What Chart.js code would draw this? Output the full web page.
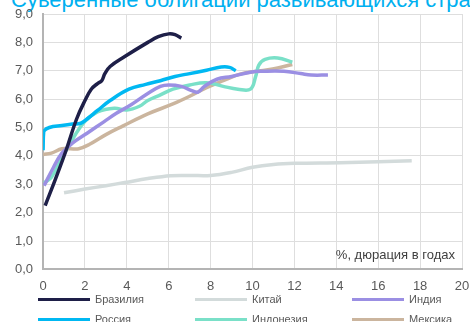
<!DOCTYPE html>
<html>
<head>
<meta charset="utf-8">
<script src="https://cdn.jsdelivr.net/npm/chart.js@4.4.0/dist/chart.umd.min.js"></script>
<style>
   body { margin: 0; background: #fff; overflow: hidden; }
   .wrap { position: relative; width: 470px; height: 322px; overflow: hidden; font-family: "Liberation Sans", Arial, sans-serif; }
   .title { position: absolute; left: 11px; top: -11px; font-size: 22px; line-height: 22px; color: #00b0f0; white-space: nowrap; }
   canvas { position: absolute; left: 0; top: 0; }
   .legend-item { position: absolute; height: 14px; font-size: 11px; line-height: 14px; color: #595959; white-space: nowrap; }
   .legend-item span.line { position: absolute; left: 0; top: 5.5px; width: 52px; height: 3px; }
   .legend-item span.txt { position: absolute; left: 57px; top: 0; }
</style>
</head>
<body>
<div class="wrap">
   <div class="title">Суверенные облигации развивающихся стран</div>
   <canvas id="myChart" width="470" height="322"></canvas>
   <div id="legend"></div>
</div>
<script>
// ==========================================
// Data (duration in years, yield %)
// ==========================================

const names = ["Бразилия", "Китай", "Индия", "Россия", "Индонезия", "Мексика"];
const colors = ["#1e1f48", "#d3dbdb", "#9b8fe3", "#00b8f2", "#7ae0c8", "#cbb59e"];

const brazilX = [0.1, 0.6, 1.1, 1.6, 2.0, 2.3, 2.6, 2.8, 2.95, 3.2, 3.9, 5.0, 5.5, 6.0, 6.3, 6.6];
const brazilY = [2.25, 3.2, 4.2, 5.3, 5.95, 6.35, 6.55, 6.65, 6.9, 7.15, 7.5, 8.0, 8.2, 8.3, 8.27, 8.15];

const chinaX = [1.0, 2.0, 3.0, 3.9, 5.0, 6.1, 7.0, 8.0, 9.0, 10.0, 11.0, 12.0, 14.2, 16.0, 17.6];
const chinaY = [2.7, 2.83, 2.95, 3.06, 3.2, 3.3, 3.31, 3.31, 3.42, 3.6, 3.7, 3.74, 3.76, 3.79, 3.83];

const indiaX = [0.05, 0.5, 0.9, 1.4, 2.1, 2.9, 3.5, 4.2, 5.0, 5.6, 6.0, 6.6, 7.1, 7.4, 7.7, 8.3, 9.0, 9.9, 10.5, 11.5, 12.3, 12.8, 13.6];
const indiaY = [2.95, 3.6, 4.1, 4.45, 4.8, 5.2, 5.5, 5.8, 6.2, 6.45, 6.5, 6.45, 6.3, 6.25, 6.45, 6.7, 6.8, 6.95, 6.98, 6.98, 6.9, 6.85, 6.85];

const russiaX = [0, 0.03, 0.3, 0.9, 1.4, 1.8, 2.1, 2.6, 3.2, 4.1, 4.9, 5.6, 6.3, 7.0, 7.8, 8.5, 8.9, 9.2];
const russiaY = [4.2, 4.85, 5.0, 5.07, 5.12, 5.15, 5.3, 5.6, 5.95, 6.35, 6.52, 6.65, 6.8, 6.9, 7.02, 7.13, 7.12, 7.0];

const indonesiaX = [0.05, 0.4, 0.95, 1.5, 2.0, 2.6, 3.4, 4.0, 4.6, 5.0, 5.6, 6.2, 7.0, 7.8, 8.6, 9.3, 9.9, 10.15, 10.3, 10.6, 11.2, 11.9];
const indonesiaY = [3.05, 3.25, 4.0, 4.7, 5.22, 5.55, 5.68, 5.62, 5.75, 5.95, 6.15, 6.35, 6.5, 6.58, 6.45, 6.35, 6.35, 6.8, 7.2, 7.4, 7.45, 7.3];

const mexicoX = [0, 0.4, 0.9, 1.3, 1.7, 2.2, 3.0, 3.8, 5.0, 6.2, 7.0, 7.8, 8.6, 9.4, 10.4, 11.2, 11.9];
const mexicoY = [4.05, 4.1, 4.25, 4.25, 4.25, 4.4, 4.75, 5.05, 5.48, 5.83, 6.1, 6.4, 6.65, 6.88, 7.0, 7.1, 7.22];

const xTicks = [0, 2, 4, 6, 8, 10, 12, 14, 16, 18, 20];
const yTicks = [0, 1, 2, 3, 4, 5, 6, 7, 8, 9];
const axisNote = "%, дюрация в годах";

const seriesX = [brazilX, chinaX, indiaX, russiaX, indonesiaX, mexicoX];
const seriesY = [brazilY, chinaY, indiaY, russiaY, indonesiaY, mexicoY];

function toPoints(xs, ys) {
   return xs.map((x, i) => ({ x: x, y: ys[i] }));
}

// ==========================================
// Chart
// ==========================================

const font = "'Liberation Sans', Arial, sans-serif";

const notePlugin = {
   id: "note",
   afterDraw(chart) {
      const c = chart.ctx;
      const area = chart.chartArea;
      c.save();
      c.font = "13px " + font;
      c.fillStyle = "#404040";
      c.textAlign = "right";
      c.textBaseline = "alphabetic";
      c.fillText(axisNote, area.right - 7, area.bottom - 10);
      c.restore();
   }
};

const ctx = document.getElementById("myChart");

let chart = new Chart(ctx, {
   type: "line",
   data: {
      datasets: names.map((name, i) => ({
         label: name,
         data: toPoints(seriesX[i], seriesY[i]),
         borderColor: colors[i],
         backgroundColor: colors[i],
         borderWidth: 3.5,
         pointRadius: 0,
         tension: 0.4,
         fill: false
      }))
   },
   options: {
      responsive: false,
      animation: false,
      layout: { padding: { left: 5, right: 1, top: 14, bottom: 19 } },
      plugins: {
         legend: { display: false },
         tooltip: { enabled: false }
      },
      scales: {
         x: {
            type: "linear",
            min: 0,
            max: 20,
            afterBuildTicks: (axis) => { axis.ticks = xTicks.map((v) => ({ value: v })); },
            afterFit: (axis) => { axis.paddingRight = 8; },
            grid: { color: "#dedede", lineWidth: 1, drawTicks: false },
            border: { color: "#b4b4b4", width: 2 },
            ticks: { padding: 9, color: "#595959", font: { family: font, size: 13 } }
         },
         y: {
            min: 0,
            max: 9,
            afterBuildTicks: (axis) => { axis.ticks = yTicks.map((v) => ({ value: v })); },
            afterFit: (axis) => { axis.paddingTop = 0; },
            grid: { color: "#dedede", lineWidth: 1, drawTicks: false },
            border: { color: "#b4b4b4", width: 2 },
            ticks: {
               padding: 10,
               color: "#595959",
               font: { family: font, size: 13 },
               callback: (v) => v.toFixed(1).replace(".", ",")
            }
         }
      }
   },
   plugins: [notePlugin]
});

// ==========================================
// Legend (3 columns)
// ==========================================

const legendCols = [38, 195, 352];
const legendRows = [292, 312];
const legend = document.getElementById("legend");
names.forEach((name, i) => {
   let item = document.createElement("DIV");
   item.classList.add("legend-item");
   item.style.left = legendCols[i % 3] + "px";
   item.style.top = legendRows[Math.floor(i / 3)] + "px";
   let line = document.createElement("SPAN");
   line.classList.add("line");
   line.style.background = colors[i];
   let txt = document.createElement("SPAN");
   txt.classList.add("txt");
   txt.textContent = name;
   item.append(line);
   item.append(txt);
   legend.append(item);
});
</script>
</body>
</html>
